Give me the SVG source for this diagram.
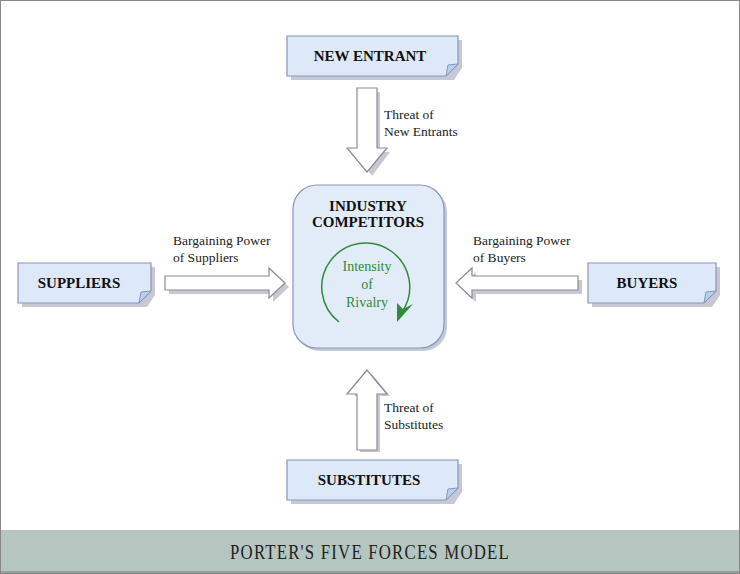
<svg xmlns="http://www.w3.org/2000/svg" width="740" height="574" viewBox="0 0 740 574">
<style>
.note{fill:#dde8f8;stroke:#8a96b8;stroke-width:1.2}
.fold{fill:#b8d0ee;stroke:#8a96b8;stroke-width:1}
.shadow{fill:#c8c8d4}
.nt{font-family:'Liberation Serif','Times New Roman',serif;font-weight:bold;font-size:15px;fill:#111;text-anchor:middle}
.lb{font-family:'Liberation Serif','Times New Roman',serif;font-size:13.5px;fill:#222}
.gr{font-family:'Liberation Serif','Times New Roman',serif;font-size:14px;fill:#2e8b3e;text-anchor:middle}
.arr{fill:#fff;stroke:#8a8a96;stroke-width:1.2}
</style>
<rect x="0.5" y="0.5" width="739" height="573" fill="#fff" stroke="#888"/>
<rect x="1" y="530" width="738" height="43" fill="#b5c6c1"/>
<line x1="1" y1="572" x2="739" y2="572" stroke="#6c7c78"/>
<text x="370" y="559" text-anchor="middle" font-family="'Liberation Serif',serif" font-size="21" letter-spacing="1.5" fill="#222" transform="translate(370 0) scale(0.8 1) translate(-370 0)">PORTER'S FIVE FORCES MODEL</text>

<g id="connectors">
<polygon class="shadow" points="360,92 380,92 380,152 390,152 372,176 354,152 360,152"/>
<polygon class="arr" points="357,88 377,88 377,148 387,148 367,172 347,148 357,148"/>
<polygon class="shadow" points="169,280 273,280 273,272 289,287 273,302 273,294 169,294"/>
<polygon class="arr" points="165,276 269,276 269,268 285,283 269,298 269,290 165,290"/>
<polygon class="shadow" points="582,280 476,280 476,272 460,287 476,302 476,294 582,294"/>
<polygon class="arr" points="578,276 472,276 472,268 456,283 472,298 472,290 578,290"/>
<polygon class="shadow" points="360,452 380,452 380,396 390,396 372,374 354,396 360,396"/>
<polygon class="arr" points="357,450 377,450 377,394 387,394 367,370 347,394 357,394"/>
</g>
<text class="lb" x="384" y="119">Threat of</text>
<text class="lb" x="384" y="136">New Entrants</text>
<text class="lb" x="173" y="245">Bargaining Power</text>
<text class="lb" x="173" y="262">of Suppliers</text>
<text class="lb" x="473" y="245">Bargaining Power</text>
<text class="lb" x="473" y="262">of Buyers</text>
<text class="lb" x="384" y="412">Threat of</text>
<text class="lb" x="384" y="429">Substitutes</text>

<g id="new-entrant">
<path class="shadow" d="M291,40 H462 V68 L454,80 H291 Z"/>
<path class="note" d="M287,36 H458 V64 L446,76 H287 Z"/>
<path class="fold" d="M458,64 L446,76 L448,65 Z"/>
<text class="nt" x="370" y="61">NEW ENTRANT</text>
</g>
<g id="suppliers">
<path class="shadow" d="M22,267 H155 V295 L147,307 H22 Z"/>
<path class="note" d="M18,263 H151 V291 L139,303 H18 Z"/>
<path class="fold" d="M151,291 L139,303 L141,292 Z"/>
<text class="nt" x="79" y="288">SUPPLIERS</text>
</g>
<g id="buyers">
<path class="shadow" d="M592,267 H720 V295 L712,307 H592 Z"/>
<path class="note" d="M588,263 H716 V291 L704,303 H588 Z"/>
<path class="fold" d="M716,291 L704,303 L706,292 Z"/>
<text class="nt" x="647" y="288">BUYERS</text>
</g>
<g id="substitutes">
<path class="shadow" d="M291,464 H462 V492 L454,504 H291 Z"/>
<path class="note" d="M287,460 H458 V488 L446,500 H287 Z"/>
<path class="fold" d="M458,488 L446,500 L448,489 Z"/>
<text class="nt" x="369" y="485">SUBSTITUTES</text>
</g>
<g id="industry-competitors">
<rect x="296" y="188" width="151" height="163" rx="24" fill="#c4c8d6"/>
<rect x="293" y="185" width="151" height="163" rx="24" fill="#e2ecf8" stroke="#8a96b8" stroke-width="1.2"/>
<text class="nt" x="368" y="211">INDUSTRY</text>
<text class="nt" x="368" y="227">COMPETITORS</text>
<path d="M339,322 A44,44 0 1 1 402,312" fill="none" stroke="#2e8b3e" stroke-width="1.5"/>
<polygon points="397,322 413,304 403,309 397,303" fill="#2e8b3e"/>
<text class="gr" x="367" y="271">Intensity</text>
<text class="gr" x="367" y="289">of</text>
<text class="gr" x="367" y="307">Rivalry</text>
</g>
</svg>
